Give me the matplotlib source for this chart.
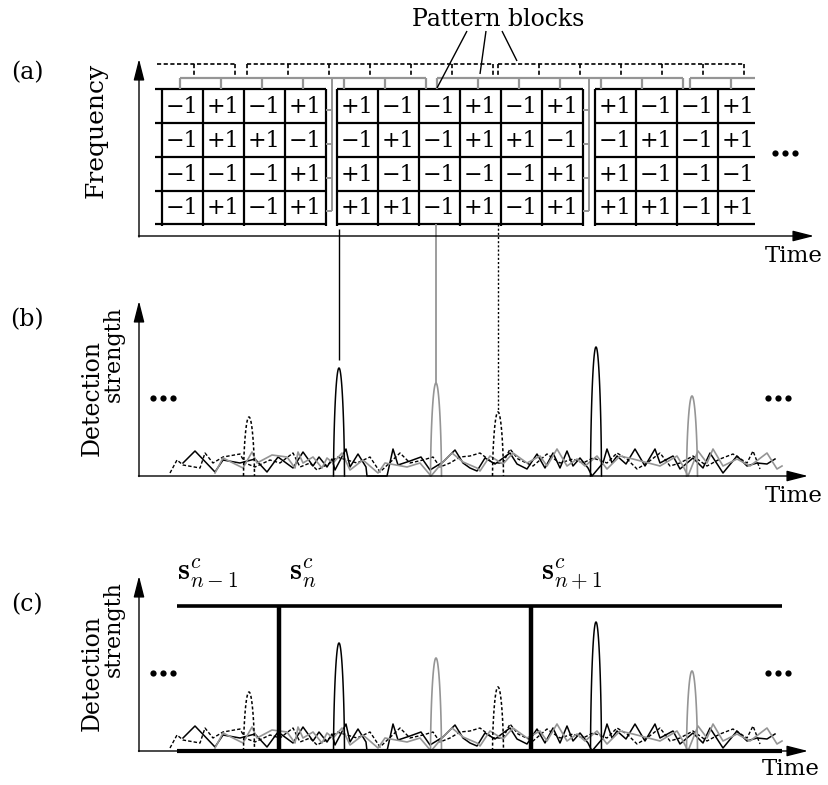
import numpy as np
import matplotlib.pyplot as plt
from matplotlib.patches import ArrowStyle

W, H = 829, 785
plt.rcParams['font.family'] = 'DejaVu Serif'
plt.rcParams['mathtext.fontset'] = 'cm'

GRAY = '#959595'

# ---- (a) code blocks: rows top->bottom, None = column outside the view
block_values = [
    [[None, None, -1, 1, -1, 1],
     [None, None, -1, 1, 1, -1],
     [None, None, -1, -1, -1, 1],
     [None, None, -1, 1, -1, 1]],
    [[1, -1, -1, 1, -1, 1],
     [-1, 1, -1, 1, 1, -1],
     [1, -1, -1, -1, -1, 1],
     [1, 1, -1, 1, -1, 1]],
    [[1, -1, -1, 1, None, None],
     [-1, 1, -1, 1, None, None],
     [1, -1, -1, -1, None, None],
     [1, 1, -1, 1, None, None]],
]
block_start = [80, 337, 595]          # start time of each black block
gray_start = [180, 437, 690]           # start time of each gray block
dash_start = [-11, 247, 498]           # start time of each dashed block

# ---- detection peaks (time, height) per user
peak_t_black = [339, 596]
peak_h_black = [108, 129]
peak_t_gray = [436, 692]
peak_h_gray = [93, 80]
peak_t_dot = [249, 498]
peak_h_dot = [59, 64]

# ---- background correlation noise (time, height)
noise_t_black = [183, 195, 215, 223, 240, 255, 267, 278, 293, 303, 313, 319, 327, 332,
                 335, 346, 350, 358, 366, 367, 387, 393, 398, 410, 421, 430, 443, 455,
                 463, 470, 477, 485, 495, 510, 517, 527, 537, 545, 553, 560, 567, 573,
                 580, 588, 592, 603, 607, 612, 617, 626, 635, 645, 655, 660, 673, 680,
                 693, 703, 710, 723, 737, 747, 757, 767, 775]
noise_h_black = [13, 25, 4, 16, 13, 17, 4, 19, 8, 24, 10, 19, 9, 17,
                 6, 27, 9, 22, 9, 0, 0, 27, 11, 15, 19, 6, 14, 26,
                 13, 8, 5, 18, 12, 23, 12, 7, 22, 8, 23, 8, 25, 10,
                 18, 8, 0, 13, 27, 13, 20, 12, 27, 10, 27, 13, 20, 7,
                 18, 8, 23, 3, 20, 10, 13, 12, 17]
noise_t_gray = [215, 223, 243, 252, 257, 272, 287, 295, 298, 303, 313, 322, 327, 333,
                342, 350, 363, 378, 385, 407, 420, 431, 442, 452, 463, 477, 480, 490,
                503, 513, 527, 540, 547, 557, 567, 577, 585, 597, 607, 620, 633, 660,
                677, 683, 688, 698, 707, 713, 723, 737, 750, 767, 777, 782]
noise_h_gray = [3, 18, 8, 24, 13, 21, 19, 8, 24, 13, 19, 8, 18, 13,
                23, 6, 16, 3, 13, 9, 13, 0, 13, 23, 14, 8, 5, 20,
                12, 23, 13, 20, 10, 27, 10, 17, 10, 20, 7, 20, 17, 10,
                20, 10, 0, 25, 13, 27, 10, 17, 10, 23, 7, 10]
noise_t_dot = [170, 177, 183, 200, 205, 213, 223, 240, 245, 255, 270, 280, 293, 300,
               310, 317, 330, 337, 357, 370, 380, 400, 410, 423, 433, 440, 450, 460,
               470, 480, 493, 503, 510, 518, 533, 547, 560, 573, 583, 593, 607, 617,
               627, 637, 647, 660, 670, 680, 693, 707, 720, 733, 747, 753, 760]
noise_h_dot = [3, 16, 11, 8, 23, 13, 19, 22, 13, 9, 16, 13, 23, 9,
               13, 6, 13, 19, 13, 19, 4, 23, 13, 16, 19, 9, 13, 19,
               20, 23, 13, 13, 27, 17, 10, 22, 13, 17, 13, 18, 13, 23,
               17, 7, 13, 23, 10, 13, 20, 10, 17, 22, 13, 25, 7]

CELL_W = 41
ROW_EDGES = [89, 123, 157, 191, 224]
CLIP_L, CLIP_R = 155, 755

fig = plt.figure(figsize=(W / 100, H / 100), dpi=100)
ax = fig.add_axes([0, 0, 1, 1])
ax.set_xlim(0, W)
ax.set_ylim(H, 0)
ax.axis('off')


def seg(x0, y0, x1, y1, **kw):
    kw.setdefault('color', 'k')
    kw.setdefault('solid_capstyle', 'butt')
    ax.plot([x0, x1], [y0, y1], **kw)


def arrow(x0, y0, x1, y1):
    ax.annotate('', xy=(x1, y1), xytext=(x0, y0),
                arrowprops=dict(arrowstyle=ArrowStyle('-|>', head_length=1.3, head_width=0.33),
                                mutation_scale=10, lw=1.0, color='k',
                                shrinkA=0, shrinkB=0))


def dots(xc, y):
    ax.plot([xc - 10, xc, xc + 10], [y, y, y], 'o', color='k', ms=4.5, mec='none')


# ================= panel (a) =================
arrow(139, 237, 139, 59)
arrow(138.5, 236, 814, 236)
ax.text(27, 73, '(a)', fontsize=17, ha='center', va='center')
ax.text(96, 130, 'Frequency', fontsize=18, rotation=90, ha='center', va='center')
ax.text(765, 245, 'Time', fontsize=16.5, ha='left', va='top')
ax.text(498, 20, 'Pattern blocks', fontsize=17, ha='center', va='center')

for x0, vals in zip(block_start, block_values):
    ncol = len(vals[0])
    xa, xb = max(x0, CLIP_L), min(x0 + ncol * CELL_W, CLIP_R)
    for y in ROW_EDGES:
        seg(xa, y, xb, y, lw=1.6)
    for k in range(ncol + 1):
        x = x0 + k * CELL_W
        if CLIP_L <= x <= CLIP_R:
            seg(x, ROW_EDGES[0], x, ROW_EDGES[-1] + 2, lw=1.6)
    for r, row in enumerate(vals):
        yc = (ROW_EDGES[r] + ROW_EDGES[r + 1]) / 2
        for c, v in enumerate(row):
            if v is None:
                continue
            txt = '+1' if v > 0 else '\u22121'
            ax.text(x0 + (c + 0.5) * CELL_W, yc + 1, txt, fontsize=16,
                    ha='center', va='center')

# gray links in the gaps between black blocks
for x0 in block_start[:-1]:
    xr = x0 + 6 * CELL_W
    xg = xr + 6
    seg(xg, 78, xg, 211, color=GRAY, lw=1.4)
    for y in [110, 144, 178, 211]:
        seg(xr, y, xg, y, color=GRAY, lw=1.4)

# gray and dashed brackets above the grid
for s in gray_start:
    xb = min(s + 6 * CELL_W, CLIP_R)
    seg(s, 78, xb, 78, color=GRAY, lw=1.6)
    for k in range(7):
        x = s + k * CELL_W
        if x <= CLIP_R:
            seg(x, 78, x, 89, color=GRAY, lw=1.6)
for s in dash_start:
    xa, xb = max(s, CLIP_L + 2), min(s + 6 * CELL_W, CLIP_R)
    seg(xa, 64, xb, 64, lw=1.2, ls=(0, (2.5, 1.5)))
    for k in range(7):
        x = s + k * CELL_W
        if CLIP_L <= x <= CLIP_R:
            seg(x, 64, x, 75, lw=1.2, ls=(0, (2.5, 1.5)))

# leaders from the "Pattern blocks" label
seg(467, 31, 437, 88, lw=1.0)
seg(486, 31, 480, 74, lw=1.0)
seg(502, 31, 517, 61, lw=1.0)


# ================= panels (b) and (c) =================
def peak(t, h, base, **kw):
    u = np.linspace(-1, 1, 61)
    ax.plot(t + 5.5 * u, base - h * (1 - u ** 2) ** 0.6, **kw)


def detection(base, top_tip):
    arrow(139, base + 0.5, 139, top_tip)
    arrow(138.5, base, 808, base)
    ax.plot(noise_t_dot, base - np.array(noise_h_dot), color='k', lw=1.0,
            ls=(0, (2.5, 1.5)))
    ax.plot(noise_t_black, base - np.array(noise_h_black), color='k', lw=1.1)
    ax.plot(noise_t_gray, base - np.array(noise_h_gray), color=GRAY, lw=1.2)
    for t, h in zip(peak_t_black, peak_h_black):
        peak(t, h, base, color='k', lw=1.1)
    for t, h in zip(peak_t_gray, peak_h_gray):
        peak(t, h, base, color=GRAY, lw=1.2)
    for t, h in zip(peak_t_dot, peak_h_dot):
        peak(t, h, base, color='k', lw=1.1, ls=(0, (2, 1.5)))
    dots(163, base - 78)
    dots(778, base - 78)
    ax.text(92, base - 78, 'Detection', fontsize=17, rotation=90, ha='center', va='center')
    ax.text(114, base - 122, 'strength', fontsize=16, rotation=90, ha='center', va='center')


B_BASE = 476
C_BASE = 751

detection(B_BASE, 301)
ax.text(27, 320, '(b)', fontsize=17, ha='center', va='center')
ax.text(765, B_BASE + 9, 'Time', fontsize=16.5, ha='left', va='top')

# block starts projected down onto the detection peaks
seg(peak_t_black[0], 229, peak_t_black[0], B_BASE - peak_h_black[0] - 8, lw=1.0)
seg(peak_t_gray[0], ROW_EDGES[-1], peak_t_gray[0], B_BASE - peak_h_gray[0], color=GRAY, lw=1.3)
seg(peak_t_dot[1], ROW_EDGES[-1], peak_t_dot[1], B_BASE - peak_h_dot[1], lw=1.0,
    ls=(0, (1.5, 1.5)))

detection(C_BASE, 576)
ax.text(27, 605, '(c)', fontsize=17, ha='center', va='center')
ax.text(762, C_BASE + 7, 'Time', fontsize=16.5, ha='left', va='top')

# candidate windows
seg(177, 606, 782, 606, lw=2.6)
seg(177, C_BASE, 782, C_BASE, lw=3.0)
for x in [279, 531]:
    seg(x, 606, x, C_BASE, lw=3.2)
ax.text(177, 580, r'$\mathbf{s}_{n-1}^{c}$', fontsize=22, ha='left', va='baseline')
ax.text(289, 580, r'$\mathbf{s}_{n}^{c}$', fontsize=22, ha='left', va='baseline')
ax.text(541, 580, r'$\mathbf{s}_{n+1}^{c}$', fontsize=22, ha='left', va='baseline')

dots(785, 153)

fig.savefig('out.png', dpi=100)
